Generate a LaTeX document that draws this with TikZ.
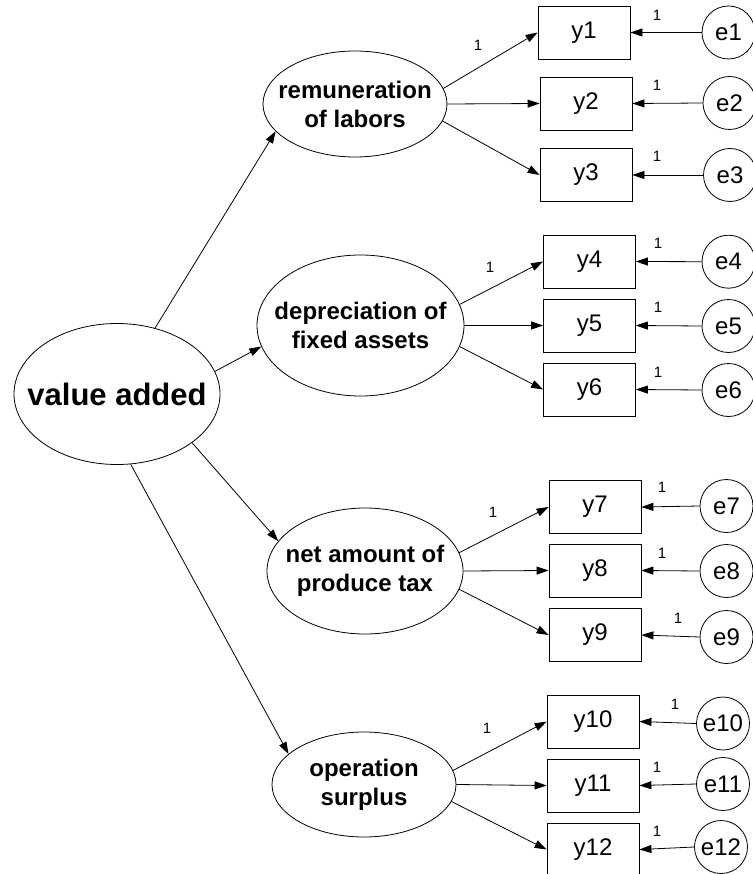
\documentclass[tikz,border=0pt]{standalone}
\usepackage{fontspec}
\setmainfont{Liberation Sans}
\usetikzlibrary{shapes.geometric,arrows.meta}
\tikzset{
  every picture/.style={x=1pt,y=-1pt},
  lat/.style={draw,ellipse,inner sep=0pt,line width=0.8pt},
  bt/.style={align=center,inner sep=0pt,font=\fontsize{24}{29}\selectfont\bfseries},
  obs/.style={draw,rectangle,minimum width=92pt,minimum height=53pt,inner sep=0pt,line width=0.8pt,font=\fontsize{24}{28}\selectfont},
  err/.style={draw,circle,minimum size=53pt,inner sep=0pt,line width=0.8pt,font=\fontsize{24}{28}\selectfont},
  one/.style={inner sep=0pt,font=\fontsize{15}{17}\selectfont},
  arr/.style={-{Triangle[length=12pt,width=8pt]},line width=0.8pt}
}
\begin{document}
\begin{tikzpicture}
\useasboundingbox (0,0) rectangle (752,874);
% latent variables
\node[lat,minimum width=206pt,minimum height=141pt] (va) at (117,394) {};
\node[inner sep=0pt,font=\fontsize{31}{36}\selectfont\bfseries] (vat) at (va) {value added};
\node[lat,minimum width=184pt,minimum height=106pt] (rem) at (355,104) {};
\node[bt] (remt) at (rem) {remuneration\\of labors};
\node[lat,minimum width=207pt,minimum height=141pt] (dep) at (360.5,325.5) {};
\node[bt] (dept) at (dep) {depreciation of\\fixed assets};
\node[lat,minimum width=196pt,minimum height=126pt] (net) at (365,571) {};
\node[bt] (nett) at (net) {net amount of\\produce tax};
\node[lat,minimum width=184pt,minimum height=105pt] (op) at (364,784.5) {};
\node[bt] (opt) at (op) {operation\\surplus};
% observed
\node[obs] (y1) at (584,32.5) {y1};
\node[obs] (y2) at (586,103.5) {y2};
\node[obs] (y3) at (586,175) {y3};
\node[obs] (y4) at (589.5,261.5) {y4};
\node[obs] (y5) at (589.5,325.5) {y5};
\node[obs] (y6) at (589.5,389.5) {y6};
\node[obs] (y7) at (595,507) {y7};
\node[obs] (y8) at (595,570.5) {y8};
\node[obs] (y9) at (595,635) {y9};
\node[obs] (y10) at (593,721.5) {y10};
\node[obs] (y11) at (593,785.5) {y11};
\node[obs] (y12) at (593,849.5) {y12};
% errors
\node[err] (e1) at (728.5,32.5) {e1};
\node[err] (e2) at (729.5,103) {e2};
\node[err] (e3) at (730,175) {e3};
\node[err] (e4) at (728.5,261.7) {e4};
\node[err] (e5) at (728.5,326) {e5};
\node[err] (e6) at (728.5,390) {e6};
\node[err] (e7) at (726.5,506) {e7};
\node[err] (e8) at (726.5,571) {e8};
\node[err] (e9) at (726.5,637) {e9};
\node[err] (e10) at (723,723.5) {e10};
\node[err] (e11) at (723,784) {e11};
\node[err] (e12) at (721,847) {e12};
% structural paths
\draw[arr] (va.60) -- (rem.199);
\draw[arr] (va.13) -- (dep.192);
\draw[arr] (va.-33) -- (net.161);
\draw[arr] (va.-79.5) -- (op.158);
% loadings
\draw[arr] (rem.10) -- (y1.west);
\draw[arr] (rem.east) -- (y2.west);
\draw[arr] (rem.-11) -- (y3.west);
\draw[arr] (dep.12.5) -- (y4.west);
\draw[arr] (dep.east) -- (y5.west);
\draw[arr] (dep.-12.5) -- (y6.west);
\draw[arr] (net.11.6) -- (y7.west);
\draw[arr] (net.east) -- (y8.west);
\draw[arr] (net.-11.8) -- (y9.west);
\draw[arr] (op.9.9) -- (y10.west);
\draw[arr] (op.east) -- (y11.west);
\draw[arr] (op.-11) -- (y12.west);
% error paths
\foreach \i in {1,...,12} { \draw[arr] (e\i.west) -- (y\i.east); }
% labels
\node[one] (l1) at (478,45) {1};
\node[one] (l4) at (490,267) {1};
\node[one] (l7) at (493,512) {1};
\node[one] (l10) at (487,728) {1};
\node[one] (m1) at (657,15) {1};
\node[one] (m2) at (657,85) {1};
\node[one] (m3) at (657,156) {1};
\node[one] (m4) at (658,243) {1};
\node[one] (m5) at (658,307) {1};
\node[one] (m6) at (658,372) {1};
\node[one] (m7) at (662,487) {1};
\node[one] (m8) at (662,553) {1};
\node[one] (m9) at (678,618) {1};
\node[one] (m10) at (675,704) {1};
\node[one] (m11) at (657,767) {1};
\node[one] (m12) at (657,831) {1};
\end{tikzpicture}
\end{document}
